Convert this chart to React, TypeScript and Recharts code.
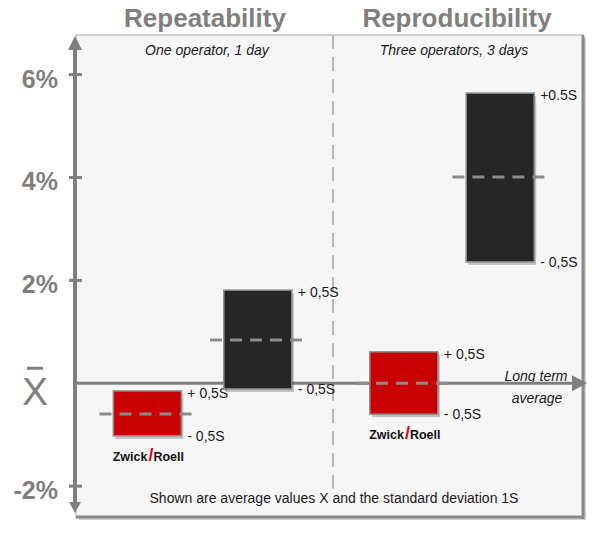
import React from "react";
import { ComposedChart, Bar, Scatter, XAxis, YAxis, ReferenceLine } from "recharts";

// --- data (y in %, x in % of the panel width) ---
const groupTitles = ["Repeatability", "Reproducibility"];
const groupNotes = ["One operator, 1 day", "Three operators, 3 days"];

const xPos = [14.1, 35.9, 64.7, 83.7];
const lowValues = [-1.02, -0.11, -0.6, 2.36];
const highValues = [-0.15, 1.81, 0.61, 5.64];
const meanValues = [-0.6, 0.84, 0.0, 4.01];
const barColors = ["#c80000", "#262626", "#c80000", "#262626"];
const upperLabels = ["+ 0,5S", "+ 0,5S", "+ 0,5S", "+0.5S"];
const lowerLabels = ["- 0,5S", "- 0,5S", "- 0,5S", "- 0,5S"];
const withBrand = [true, false, true, false];

const dividerX = 50.7;
const yTicks = [-2, 0, 2, 4, 6];
const yTickLabels = ["-2%", "X", "2%", "4%", "6%"];
const yDomain: [number, number] = [-2.6, 6.77];

const data = xPos.map((x, i) => ({
  x,
  range: [lowValues[i], highValues[i]],
  mean: meanValues[i],
  color: barColors[i],
  upper: upperLabels[i],
  lower: lowerLabels[i],
  brand: withBrand[i],
}));

const FONT = "'Liberation Sans', Arial, sans-serif";
const AXIS = "#7f7f7f";
const W = 606;
const H = 537;
const MARGIN = { top: 35, right: 23, bottom: 20, left: 0 };

const YTick = (props: any) => {
  const { y, payload } = props;
  const label = yTickLabels[yTicks.indexOf(payload.value)];
  if (payload.value === 0) {
    return (
      <g>
        <line x1={27} x2={43} y1={y - 15} y2={y - 15} stroke={AXIS} strokeWidth={3} />
        <text x={35} y={y + 22} textAnchor="middle" fontFamily={FONT} fontSize={39} fill={AXIS}>
          {label}
        </text>
      </g>
    );
  }
  return (
    <g>
      <line x1={69} x2={82} y1={y} y2={y} stroke={AXIS} strokeWidth={3} />
      <text x={58} y={y + 13} textAnchor="end" fontFamily={FONT} fontWeight="bold" fontSize={25} fill={AXIS}>
        {label}
      </text>
    </g>
  );
};

const FloatingBar = (props: any) => {
  const { x, y, width, height, payload } = props;
  const top = height < 0 ? y + height : y;
  const h = Math.abs(height);
  const cx = x + width / 2;
  return (
    <g>
      <rect x={x + 2} y={top + 3} width={width} height={h} fill="#000" opacity={0.22} />
      <rect x={x} y={top} width={width} height={h} fill={payload.color} stroke="#8a8a8a" strokeWidth={1.5} />
      <text x={x + width + 6} y={top + 2} dominantBaseline="central" fontFamily={FONT} fontSize={14} fill="#1a1a1a">
        {payload.upper}
      </text>
      <text x={x + width + 6} y={top + h} dominantBaseline="central" fontFamily={FONT} fontSize={14} fill="#1a1a1a">
        {payload.lower}
      </text>
      {payload.brand && (
        <text x={cx + 1} y={top + h + 25} textAnchor="middle" fontFamily={FONT} fontWeight="bold" fontSize={12.5} fill="#111">
          Zwick
          <tspan fill="#e2001a" fontSize={18} dx={1}>/</tspan>
          Roell
        </text>
      )}
    </g>
  );
};

const MeanMark = (props: any) => {
  const { cx, cy } = props;
  return (
    <line x1={cx - 48} x2={cx + 48} y1={cy} y2={cy} stroke="#8c8c8c" strokeWidth={3} strokeDasharray="12 8" />
  );
};

const NoMark = () => <g />;

const VerticalAxis = (props: any) => {
  const { x1, y1, y2 } = props;
  const top = Math.min(y1, y2);
  const bottom = Math.max(y1, y2);
  return (
    <g>
      <line x1={x1 - 1} x2={x1 - 1} y1={top + 12} y2={bottom - 14} stroke={AXIS} strokeWidth={4} />
      <polygon points={`${x1 - 8},${top + 15} ${x1 - 1},${top + 1} ${x1 + 6},${top + 15}`} fill={AXIS} />
      <polygon points={`${x1 - 7},${bottom - 15} ${x1 - 1},${bottom - 4} ${x1 + 5},${bottom - 15}`} fill={AXIS} />
    </g>
  );
};

const HorizontalAxis = (props: any) => {
  const { x1, x2, y1 } = props;
  return (
    <g>
      <line x1={x1} x2={x2 - 10} y1={y1} y2={y1} stroke={AXIS} strokeWidth={3} />
      <polygon points={`${x2 - 11},${y1 - 8} ${x2 + 4},${y1} ${x2 - 11},${y1 + 8}`} fill={AXIS} />
    </g>
  );
};

export default function App() {
  return (
    <div style={{ position: "absolute", left: 0, top: 0, width: W, height: H, background: "#fff" }}>
      {/* panel, titles and notes */}
      <svg width={W} height={H} style={{ position: "absolute", left: 0, top: 0 }}>
        <rect x={79} y={38} width={507} height={482} fill="#cfcfcf" />
        <rect x={76} y={35} width={507} height={482} fill="#f6f6f6" stroke="#a6a6a6" strokeWidth={1} />
        <line x1={583} x2={583} y1={35} y2={519} stroke="#8a8a8a" strokeWidth={3} />
        <line x1={76} x2={584} y1={517} y2={517} stroke="#8a8a8a" strokeWidth={3} />
        <text x={205} y={27} textAnchor="middle" fontFamily={FONT} fontWeight="bold" fontSize={26} fill={AXIS}>
          {groupTitles[0]}
        </text>
        <text x={457} y={27} textAnchor="middle" fontFamily={FONT} fontWeight="bold" fontSize={26} fill={AXIS}>
          {groupTitles[1]}
        </text>
        <text x={207} y={55} textAnchor="middle" fontFamily={FONT} fontStyle="italic" fontSize={14} fill="#1a1a1a">
          {groupNotes[0]}
        </text>
        <text x={454} y={55} textAnchor="middle" fontFamily={FONT} fontStyle="italic" fontSize={14} fill="#1a1a1a">
          {groupNotes[1]}
        </text>
        <text x={536} y={381} textAnchor="middle" fontFamily={FONT} fontStyle="italic" fontSize={14} fill="#1a1a1a">
          Long term
        </text>
        <text x={537} y={403} textAnchor="middle" fontFamily={FONT} fontStyle="italic" fontSize={14} fill="#1a1a1a">
          average
        </text>
        <text x={334} y={503} textAnchor="middle" fontFamily={FONT} fontSize={14} fill="#1a1a1a">
          Shown are average values X and the standard deviation 1S
        </text>
      </svg>

      {/* lower layer: axis lines and divider, same scales as the bars */}
      <div style={{ position: "absolute", left: 0, top: 0 }}>
        <ComposedChart width={W} height={H} data={data} margin={MARGIN}>
          <XAxis dataKey="x" type="number" domain={[0, 100]} hide />
          <YAxis type="number" domain={yDomain} width={76} axisLine={false} tickLine={false} tick={false} />
          <Scatter dataKey="mean" shape={<NoMark />} isAnimationActive={false} />
          <ReferenceLine
            segment={[{ x: dividerX, y: yDomain[1] }, { x: dividerX, y: -2.05 }]}
            stroke="#b5b5b5"
            strokeWidth={2}
            strokeDasharray="14 8"
          />
          <ReferenceLine y={0} shape={<HorizontalAxis />} />
          <ReferenceLine segment={[{ x: 0, y: yDomain[1] }, { x: 0, y: yDomain[0] }]} shape={<VerticalAxis />} />
        </ComposedChart>
      </div>

      {/* upper layer: floating bars, mean marks and y ticks */}
      <div style={{ position: "absolute", left: 0, top: 0 }}>
        <ComposedChart width={W} height={H} data={data} margin={MARGIN}>
          <XAxis dataKey="x" type="number" domain={[0, 100]} hide />
          <YAxis
            type="number"
            domain={yDomain}
            ticks={yTicks}
            interval={0}
            width={76}
            axisLine={false}
            tickLine={false}
            tick={<YTick />}
          />
          <Bar dataKey="range" barSize={68} shape={<FloatingBar />} isAnimationActive={false} />
          <Scatter dataKey="mean" shape={<MeanMark />} isAnimationActive={false} />
        </ComposedChart>
      </div>
    </div>
  );
}
